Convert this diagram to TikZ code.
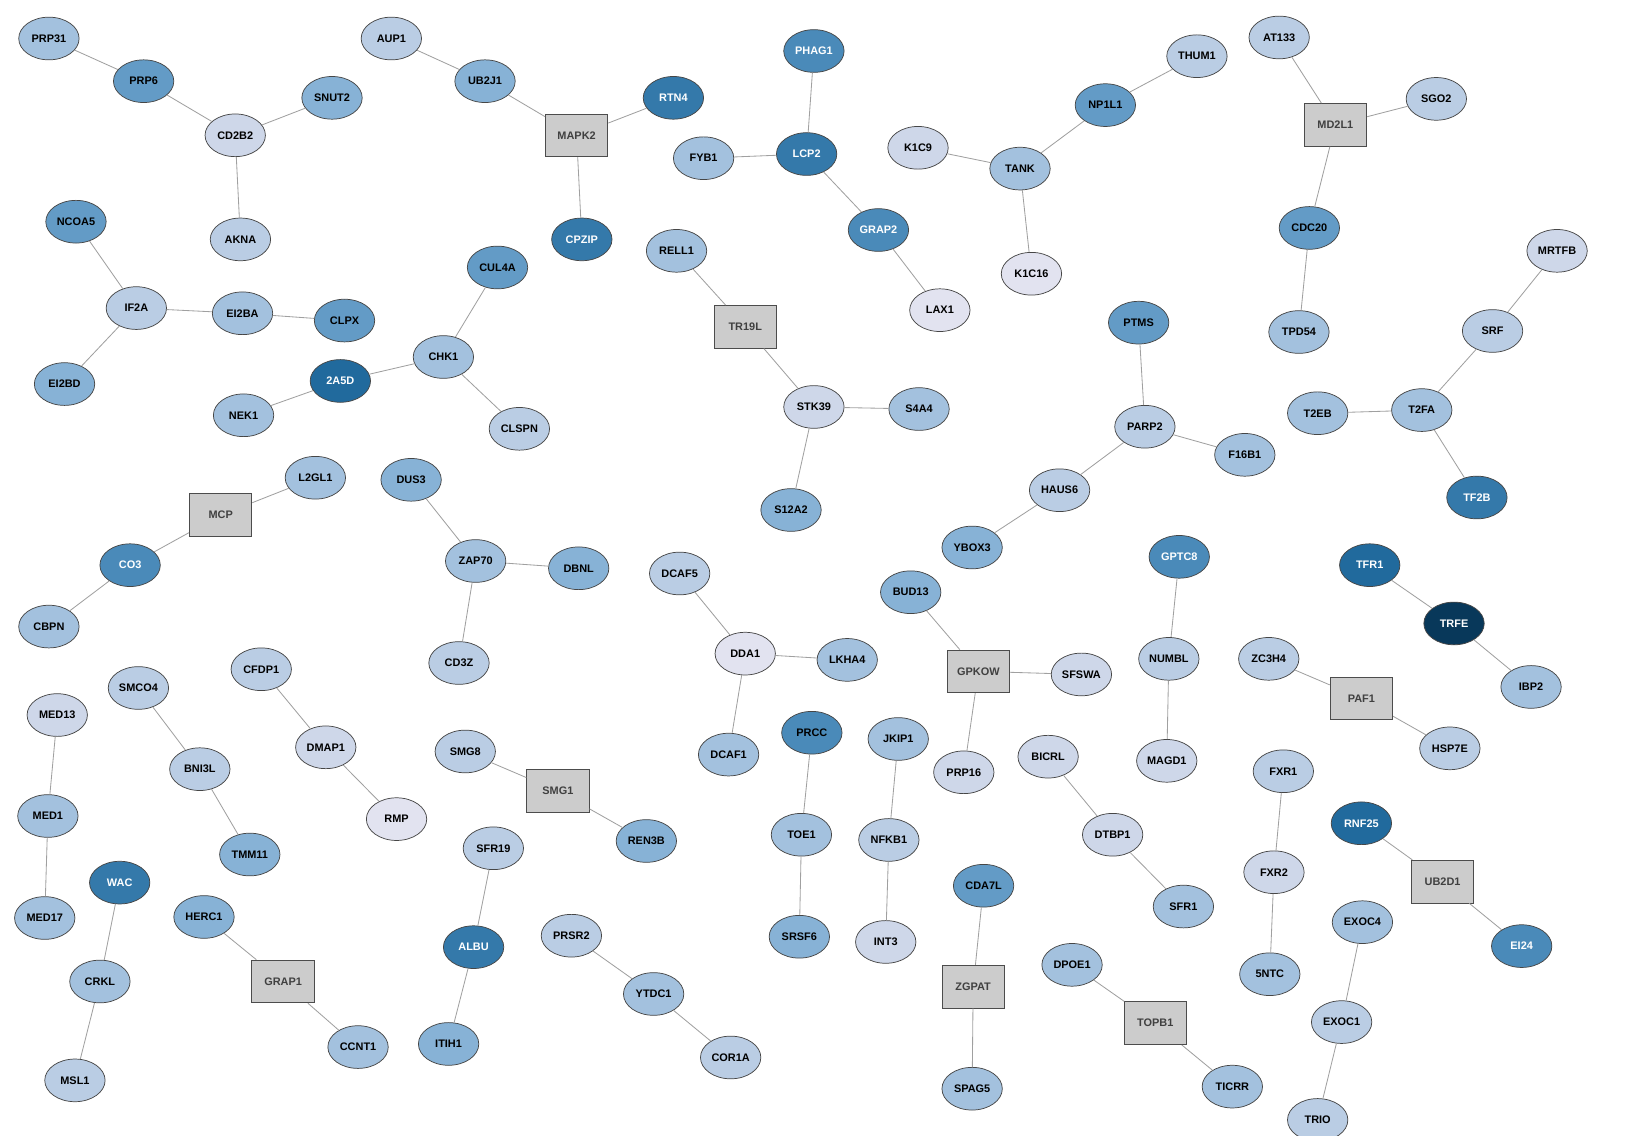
\documentclass[tikz,border=0pt]{standalone}
\usepackage{fontspec}
\setmainfont{Liberation Sans}
\usepackage{xcolor}
\usetikzlibrary{shapes.geometric}

\definecolor{cA}{RGB}{226,227,240}
\definecolor{cB}{RGB}{206,215,233}
\definecolor{cC}{RGB}{186,205,228}
\definecolor{cD}{RGB}{163,193,222}
\definecolor{cE}{RGB}{135,178,214}
\definecolor{cF}{RGB}{99,155,198}
\definecolor{cG}{RGB}{74,138,185}
\definecolor{cH}{RGB}{52,121,170}
\definecolor{cI}{RGB}{33,106,157}
\definecolor{cJ}{RGB}{8,56,90}
\definecolor{hubgray}{RGB}{204,204,204}
\definecolor{nodeline}{RGB}{70,70,70}
\definecolor{linkgray}{RGB}{160,160,160}

\tikzset{
  gene/.style={ellipse,draw=nodeline,line width=0.7pt,minimum width=58pt,minimum height=41pt,inner sep=0pt,font=\bfseries\fontsize{10.5}{12}\selectfont},
  la/.style={gene,fill=cA},
  lb/.style={gene,fill=cB},
  lc/.style={gene,fill=cC},
  ld/.style={gene,fill=cD},
  le/.style={gene,fill=cE},
  lf/.style={gene,fill=cF},
  lg/.style={gene,fill=cG,text=white},
  lh/.style={gene,fill=cH,text=white},
  li/.style={gene,fill=cI,text=white},
  lj/.style={gene,fill=cJ,text=white},
  hub/.style={rectangle,draw=gray!60!black,line width=0.8pt,fill=hubgray,minimum width=60pt,minimum height=41pt,inner sep=0pt,text=black!75,font=\bfseries\fontsize{10.5}{12}\selectfont},
  link/.style={draw=linkgray,line width=0.8pt}
}

\begin{document}
\begin{tikzpicture}[x=1pt,y=-1pt]
  \useasboundingbox[fill=white] (0,0) rectangle (1568,1091);
  \node[ld] (prp31) at (47,37) {PRP31};
  \node[lf] (prp6) at (138,78) {PRP6};
  \node[le] (snut2) at (319,94) {SNUT2};
  \node[lb] (cd2b2) at (226,130) {CD2B2};
  \node[lc] (akna) at (231,230) {AKNA};
  \node[lc] (aup1) at (376,37) {AUP1};
  \node[le] (ub2j1) at (466,78) {UB2J1};
  \node[hub] (mapk2) at (554,130) {MAPK2};
  \node[lh] (rtn4) at (647,94) {RTN4};
  \node[lh] (cpzip) at (559,230) {CPZIP};
  \node[lg] (phag1) at (782,49) {PHAG1};
  \node[ld] (fyb1) at (676,152) {FYB1};
  \node[lh] (lcp2) at (775,148) {LCP2};
  \node[lg] (grap2) at (844,221) {GRAP2};
  \node[la] (lax1) at (903,298) {LAX1};
  \node[lb] (k1c9) at (882,142) {K1C9};
  \node[ld] (tank) at (980,162) {TANK};
  \node[la] (k1c16) at (991,263) {K1C16};
  \node[lf] (np1l1) at (1062,101) {NP1L1};
  \node[lc] (thum1) at (1150,54) {THUM1};
  \node[lc] (at133) at (1229,36) {AT133};
  \node[hub] (md2l1) at (1283,120) {MD2L1};
  \node[lc] (sgo2) at (1380,95) {SGO2};
  \node[lf] (cdc20) at (1258,219) {CDC20};
  \node[ld] (tpd54) at (1248,319) {TPD54};
  \node[lb] (mrtfb) at (1496,241) {MRTFB};
  \node[lc] (srf) at (1434,318) {SRF};
  \node[ld] (t2eb) at (1266,397) {T2EB};
  \node[ld] (t2fa) at (1366,394) {T2FA};
  \node[lh] (tf2b) at (1419,478) {TF2B};
  \node[lf] (ncoa5) at (73,213) {NCOA5};
  \node[lc] (if2a) at (131,296) {IF2A};
  \node[ld] (ei2ba) at (233,301) {EI2BA};
  \node[lf] (clpx) at (331,308) {CLPX};
  \node[le] (ei2bd) at (62,369) {EI2BD};
  \node[lf] (cul4a) at (478,257) {CUL4A};
  \node[ld] (chk1) at (426,343) {CHK1};
  \node[li] (n2a5d) at (327,366) {2A5D};
  \node[ld] (nek1) at (234,399) {NEK1};
  \node[lc] (clspn) at (499,412) {CLSPN};
  \node[ld] (rell1) at (650,241) {RELL1};
  \node[hub] (tr19l) at (716,314) {TR19L};
  \node[lb] (stk39) at (782,391) {STK39};
  \node[ld] (s4a4) at (883,393) {S4A4};
  \node[le] (s12a2) at (760,490) {S12A2};
  \node[lf] (ptms) at (1094,310) {PTMS};
  \node[lc] (parp2) at (1100,410) {PARP2};
  \node[ld] (f16b1) at (1196,437) {F16B1};
  \node[lc] (haus6) at (1018,471) {HAUS6};
  \node[le] (ybox3) at (934,526) {YBOX3};
  \node[ld] (l2gl1) at (303,459) {L2GL1};
  \node[hub] (mcp) at (212,495) {MCP};
  \node[lg] (co3) at (125,543) {CO3};
  \node[ld] (cbpn) at (47,602) {CBPN};
  \node[le] (dus3) at (395,461) {DUS3};
  \node[ld] (zap70) at (457,539) {ZAP70};
  \node[le] (dbnl) at (556,546) {DBNL};
  \node[lc] (cd3z) at (441,637) {CD3Z};
  \node[lc] (dcaf5) at (653,551) {DCAF5};
  \node[la] (dda1) at (716,628) {DDA1};
  \node[ld] (lkha4) at (814,634) {LKHA4};
  \node[ld] (dcaf1) at (700,725) {DCAF1};
  \node[le] (bud13) at (875,569) {BUD13};
  \node[hub] (gpkow) at (940,645) {GPKOW};
  \node[lb] (sfswa) at (1039,648) {SFSWA};
  \node[lb] (prp16) at (926,742) {PRP16};
  \node[lg] (gptc8) at (1133,535) {GPTC8};
  \node[lc] (numbl) at (1123,633) {NUMBL};
  \node[lb] (magd1) at (1121,731) {MAGD1};
  \node[lc] (zc3h4) at (1219,633) {ZC3H4};
  \node[hub] (paf1) at (1308,671) {PAF1};
  \node[lc] (hsp7e) at (1393,719) {HSP7E};
  \node[li] (tfr1) at (1316,543) {TFR1};
  \node[lj] (trfe) at (1397,599) {TRFE};
  \node[ld] (ibp2) at (1471,660) {IBP2};
  \node[lb] (med13) at (55,687) {MED13};
  \node[ld] (med1) at (46,784) {MED1};
  \node[ld] (med17) at (43,882) {MED17};
  \node[lc] (smco4) at (133,661) {SMCO4};
  \node[lc] (bni3l) at (192,739) {BNI3L};
  \node[le] (tmm11) at (240,821) {TMM11};
  \node[lc] (cfdp1) at (251,643) {CFDP1};
  \node[lb] (dmap1) at (313,718) {DMAP1};
  \node[la] (rmp) at (381,787) {RMP};
  \node[lc] (smg8) at (447,722) {SMG8};
  \node[hub] (smg1) at (536,760) {SMG1};
  \node[le] (ren3b) at (621,808) {REN3B};
  \node[lc] (sfr19) at (474,815) {SFR19};
  \node[lh] (albu) at (455,910) {ALBU};
  \node[le] (itih1) at (431,1003) {ITIH1};
  \node[lc] (prsr2) at (549,899) {PRSR2};
  \node[ld] (ytdc1) at (628,955) {YTDC1};
  \node[lc] (cor1a) at (702,1016) {COR1A};
  \node[lf,fill=cG] (prcc) at (780,704) {PRCC};
  \node[ld] (toe1) at (770,802) {TOE1};
  \node[le] (srsf6) at (768,900) {SRSF6};
  \node[ld] (jkip1) at (863,710) {JKIP1};
  \node[lc] (nfkb1) at (854,807) {NFKB1};
  \node[lb] (int3) at (851,905) {INT3};
  \node[lf] (cda7l) at (945,851) {CDA7L};
  \node[hub] (zgpat) at (935,948) {ZGPAT};
  \node[ld] (spag5) at (934,1046) {SPAG5};
  \node[lb] (bicrl) at (1007,727) {BICRL};
  \node[lb] (dtbp1) at (1069,802) {DTBP1};
  \node[ld] (sfr1) at (1137,871) {SFR1};
  \node[ld] (dpoe1) at (1030,927) {DPOE1};
  \node[hub] (topb1) at (1110,983) {TOPB1};
  \node[ld] (ticrr) at (1184,1044) {TICRR};
  \node[lc] (fxr1) at (1233,741) {FXR1};
  \node[lb] (fxr2) at (1224,838) {FXR2};
  \node[ld] (n5ntc) at (1220,936) {5NTC};
  \node[li] (rnf25) at (1308,791) {RNF25};
  \node[hub] (ub2d1) at (1386,847) {UB2D1};
  \node[lg] (ei24) at (1462,909) {EI24};
  \node[ld] (exoc4) at (1309,886) {EXOC4};
  \node[lc] (exoc1) at (1289,982) {EXOC1};
  \node[lc] (trio) at (1266,1076) {TRIO};
  \node[lh] (wac) at (115,848) {WAC};
  \node[ld] (crkl) at (96,943) {CRKL};
  \node[lc] (msl1) at (72,1038) {MSL1};
  \node[le] (herc1) at (196,881) {HERC1};
  \node[hub] (grap1) at (272,943) {GRAP1};
  \node[ld] (ccnt1) at (344,1006) {CCNT1};
     \draw[link] (prp31) -- (prp6);
     \draw[link] (prp6) -- (cd2b2);
     \draw[link] (snut2) -- (cd2b2);
     \draw[link] (cd2b2) -- (akna);
     \draw[link] (aup1) -- (ub2j1);
     \draw[link] (ub2j1) -- (mapk2);
     \draw[link] (mapk2) -- (rtn4);
     \draw[link] (mapk2) -- (cpzip);
     \draw[link] (phag1) -- (lcp2);
     \draw[link] (fyb1) -- (lcp2);
     \draw[link] (lcp2) -- (grap2);
     \draw[link] (grap2) -- (lax1);
     \draw[link] (k1c9) -- (tank);
     \draw[link] (tank) -- (k1c16);
     \draw[link] (tank) -- (np1l1);
     \draw[link] (np1l1) -- (thum1);
     \draw[link] (at133) -- (md2l1);
     \draw[link] (md2l1) -- (sgo2);
     \draw[link] (md2l1) -- (cdc20);
     \draw[link] (cdc20) -- (tpd54);
     \draw[link] (mrtfb) -- (srf);
     \draw[link] (srf) -- (t2fa);
     \draw[link] (t2eb) -- (t2fa);
     \draw[link] (t2fa) -- (tf2b);
     \draw[link] (ncoa5) -- (if2a);
     \draw[link] (if2a) -- (ei2ba);
     \draw[link] (ei2ba) -- (clpx);
     \draw[link] (if2a) -- (ei2bd);
     \draw[link] (cul4a) -- (chk1);
     \draw[link] (chk1) -- (n2a5d);
     \draw[link] (n2a5d) -- (nek1);
     \draw[link] (chk1) -- (clspn);
     \draw[link] (rell1) -- (tr19l);
     \draw[link] (tr19l) -- (stk39);
     \draw[link] (stk39) -- (s4a4);
     \draw[link] (stk39) -- (s12a2);
     \draw[link] (ptms) -- (parp2);
     \draw[link] (parp2) -- (f16b1);
     \draw[link] (parp2) -- (haus6);
     \draw[link] (haus6) -- (ybox3);
     \draw[link] (l2gl1) -- (mcp);
     \draw[link] (mcp) -- (co3);
     \draw[link] (co3) -- (cbpn);
     \draw[link] (dus3) -- (zap70);
     \draw[link] (zap70) -- (dbnl);
     \draw[link] (zap70) -- (cd3z);
     \draw[link] (dcaf5) -- (dda1);
     \draw[link] (dda1) -- (lkha4);
     \draw[link] (dda1) -- (dcaf1);
     \draw[link] (bud13) -- (gpkow);
     \draw[link] (gpkow) -- (sfswa);
     \draw[link] (gpkow) -- (prp16);
     \draw[link] (gptc8) -- (numbl);
     \draw[link] (numbl) -- (magd1);
     \draw[link] (zc3h4) -- (paf1);
     \draw[link] (paf1) -- (hsp7e);
     \draw[link] (tfr1) -- (trfe);
     \draw[link] (trfe) -- (ibp2);
     \draw[link] (med13) -- (med1);
     \draw[link] (med1) -- (med17);
     \draw[link] (smco4) -- (bni3l);
     \draw[link] (bni3l) -- (tmm11);
     \draw[link] (cfdp1) -- (dmap1);
     \draw[link] (dmap1) -- (rmp);
     \draw[link] (smg8) -- (smg1);
     \draw[link] (smg1) -- (ren3b);
     \draw[link] (sfr19) -- (albu);
     \draw[link] (albu) -- (itih1);
     \draw[link] (prsr2) -- (ytdc1);
     \draw[link] (ytdc1) -- (cor1a);
     \draw[link] (prcc) -- (toe1);
     \draw[link] (toe1) -- (srsf6);
     \draw[link] (jkip1) -- (nfkb1);
     \draw[link] (nfkb1) -- (int3);
     \draw[link] (cda7l) -- (zgpat);
     \draw[link] (zgpat) -- (spag5);
     \draw[link] (bicrl) -- (dtbp1);
     \draw[link] (dtbp1) -- (sfr1);
     \draw[link] (dpoe1) -- (topb1);
     \draw[link] (topb1) -- (ticrr);
     \draw[link] (fxr1) -- (fxr2);
     \draw[link] (fxr2) -- (n5ntc);
     \draw[link] (rnf25) -- (ub2d1);
     \draw[link] (ub2d1) -- (ei24);
     \draw[link] (exoc4) -- (exoc1);
     \draw[link] (exoc1) -- (trio);
     \draw[link] (wac) -- (crkl);
     \draw[link] (crkl) -- (msl1);
     \draw[link] (herc1) -- (grap1);
     \draw[link] (grap1) -- (ccnt1);
\end{tikzpicture}
\end{document}
